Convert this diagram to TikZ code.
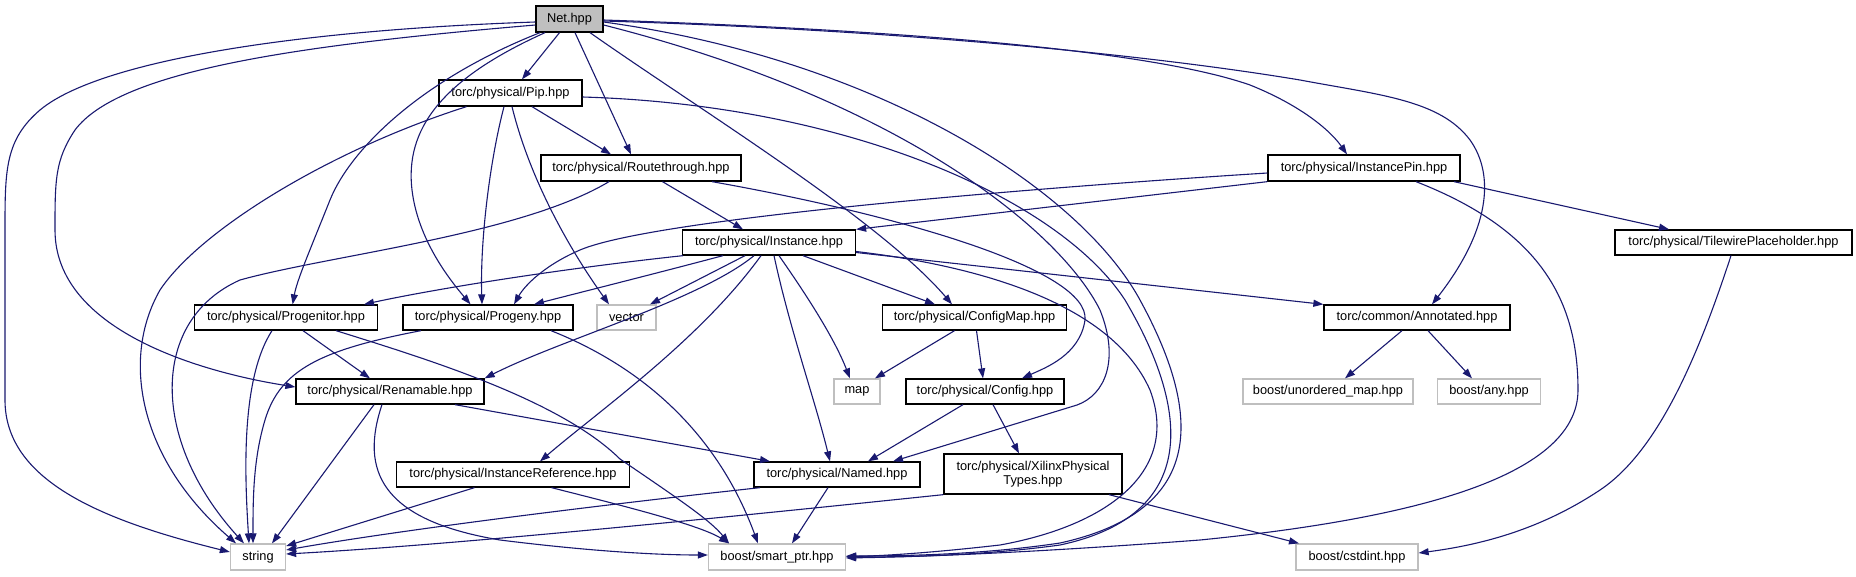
\documentclass[tikz,border=0pt]{standalone}
\usepackage{fontspec}
\setmainfont{Liberation Sans}
\usetikzlibrary{arrows.meta,calc}
\definecolor{edgec}{HTML}{191970}
\definecolor{greyb}{HTML}{BFBFBF}
\begin{document}
\begin{tikzpicture}[x=1pt,y=-1pt,font=\fontsize{12.8}{14}\selectfont,
  box/.style={draw=black,line width=1.3pt,fill=white,inner sep=0pt,minimum height=25pt},
  gbox/.style={box,draw=greyb},
  edge/.style={draw=edgec,line width=1.1pt,-{Triangle[length=10pt,width=7pt]}}]
\fill[white] (0,0) rectangle (1856,576);
\useasboundingbox (0,0) rectangle (1856,576);
% nodes
\node[box,fill=greyb,minimum width=67pt,minimum height=26pt] (net) at (569.5,19) {Net.hpp};
\node[box,minimum width=143pt,minimum height=26pt] (pip) at (510.5,93) {torc/physical/Pip.hpp};
\node[box,minimum width=200pt,minimum height=26pt] (rt) at (641,168) {torc/physical/Routethrough.hpp};
\node[box,minimum width=192pt,minimum height=26pt] (ipin) at (1364,168) {torc/physical/InstancePin.hpp};
\node[box,minimum width=173pt] (inst) at (769,242.5) {torc/physical/Instance.hpp};
\node[box,minimum width=237pt] (tw) at (1733.5,242.5) {torc/physical/TilewirePlaceholder.hpp};
\node[box,minimum width=183pt] (pgen) at (286,317.5) {torc/physical/Progenitor.hpp};
\node[box,minimum width=170pt] (pgny) at (488,317.5) {torc/physical/Progeny.hpp};
\node[gbox,minimum width=59pt] (vec) at (626.5,317.5) {vector};
\node[box,minimum width=184pt] (cmap) at (974.5,317.5) {torc/physical/ConfigMap.hpp};
\node[box,minimum width=186pt] (ann) at (1417,317.5) {torc/common/Annotated.hpp};
\node[box,minimum width=188pt] (ren) at (390,391.5) {torc/physical/Renamable.hpp};
\node[gbox,minimum width=46pt] (map) at (857,391.5) {map};
\node[box,minimum width=158pt] (cfg) at (985,391.5) {torc/physical/Config.hpp};
\node[gbox,minimum width=170pt] (umap) at (1328,391.5) {boost/unordered\_map.hpp};
\node[gbox,minimum width=103pt] (any) at (1489,391.5) {boost/any.hpp};
\node[box,minimum width=233pt] (iref) at (513,474.5) {torc/physical/InstanceReference.hpp};
\node[box,minimum width=166pt] (named) at (837,474.5) {torc/physical/Named.hpp};
\node[box,minimum width=178pt,minimum height=40pt,align=center] (xil) at (1033,474) {torc/physical/XilinxPhysical\\Types.hpp};
\node[gbox,minimum width=55pt,minimum height=26pt] (str) at (258,557) {string};
\node[gbox,minimum width=137pt,minimum height=26pt] (sp) at (777,557) {boost/smart\_ptr.hpp};
\node[gbox,minimum width=122pt,minimum height=26pt] (cst) at (1357,557) {boost/cstdint.hpp};
% Net
\draw[edge] ([yshift=-3pt]net.west) .. controls (300,30) and (100,60) .. (40,110) .. controls (5,140) and (5,170) .. (5,230) -- (5,400) .. controls (5,480) and (100,520) .. ([yshift=5pt]str.west);
\draw[edge] ([yshift=-6pt]net.west) .. controls (300,45) and (120,70) .. (75,130) .. controls (55,160) and (55,180) .. (55,230) .. controls (55,330) and (200,372) .. ([yshift=4.5pt]ren.west);
\draw[edge] ([xshift=-10pt]net.south) -- ([xshift=11.5pt]pip.north);
\draw[edge] ([xshift=5.5pt]net.south) -- ([xshift=-10pt]rt.north);
\draw[edge] ([xshift=-29.5pt]net.south) .. controls (420,80) and (350,150) .. (330,200) .. controls (310,250) and (297,280) .. ([xshift=6.6pt]pgen.north);
\draw[edge] ([xshift=-24.5pt]net.south) .. controls (440,80) and (405,130) .. (412,190) .. controls (418,240) and (450,280) .. ([xshift=-17.5pt]pgny.north);
\draw[edge] ([xshift=20.5pt]net.south) .. controls (700,110) and (880,220) .. ([xshift=-22.5pt]cmap.north);
\draw[edge] ([yshift=-6pt]net.east) .. controls (900,100) and (1060,230) .. (1100,310) .. controls (1120,360) and (1105,395) .. (1077,405) -- ([xshift=56pt]named.north);
\draw[edge] ([yshift=-3pt]net.east) .. controls (880,60) and (1080,190) .. (1140,300) .. controls (1200,410) and (1210,510) .. (1060,543) .. controls (980,555) and (900,556) .. ([yshift=1pt]sp.east);
\draw[edge] ([yshift=-1pt]net.east) .. controls (900,30) and (1150,50) .. (1250,85) .. controls (1300,105) and (1330,130) .. ([xshift=-17pt]ipin.north);
\draw[edge] ([yshift=-2pt]net.east) .. controls (900,30) and (1150,55) .. (1300,80) .. controls (1380,95) and (1440,100) .. (1470,140) .. controls (1495,175) and (1490,230) .. ([xshift=15pt]ann.north);
% Pip
\draw[edge] ([xshift=21.5pt]pip.south) -- ([xshift=-30pt]rt.north);
\draw[edge] ([xshift=-6.5pt]pip.south) .. controls (490,160) and (480,240) .. ([xshift=-6pt]pgny.north);
\draw[edge] ([xshift=1.5pt]pip.south) .. controls (530,180) and (570,250) .. ([xshift=-17.5pt]vec.north);
\draw[edge] ([xshift=-44pt]pip.south) .. controls (330,150) and (200,230) .. (160,290) .. controls (120,360) and (140,460) .. ([xshift=-22pt]str.north);
\draw[edge] ([yshift=-4pt]pip.east) .. controls (850,105) and (1060,200) .. (1125,300) .. controls (1190,410) and (1200,515) .. (1060,545) .. controls (980,556) and (900,557) .. (sp.east);
% Routethrough
\draw[edge] ([xshift=21.5pt]rt.south) -- ([xshift=-26pt]inst.north);
\draw[edge] ([xshift=-32pt]rt.south) .. controls (520,235) and (330,255) .. (240,280) .. controls (150,320) and (150,440) .. ([xshift=-14pt]str.north);
\draw[edge] ([xshift=71pt]rt.south) .. controls (900,215) and (1090,270) .. (1085,320) .. controls (1080,355) and (1045,368) .. ([xshift=37pt]cfg.north);
% InstancePin
\draw[edge] (ipin.south west) -- (inst.north east);
\draw[edge] ([yshift=-5pt]ipin.west) .. controls (1000,190) and (650,220) .. (580,250) .. controls (545,265) and (525,285) .. ([xshift=26pt]pgny.north);
\draw[edge] ([xshift=90pt]ipin.south) -- ([xshift=-64.5pt]tw.north);
\draw[edge] ([xshift=52pt]ipin.south) .. controls (1540,230) and (1578,300) .. (1578,390) .. controls (1578,480) and (1400,520) .. (1200,540) .. controls (1000,555) and (900,557) .. ([yshift=-1pt]sp.east);
% Instance
\draw[edge] ([xshift=-86pt]inst.south) .. controls (550,270) and (430,290) .. ([xshift=78pt]pgen.north);
\draw[edge] ([xshift=-46pt]inst.south) .. controls (650,275) and (570,295) .. ([xshift=46pt]pgny.north);
\draw[edge] ([xshift=-24pt]inst.south) -- ([xshift=23.5pt]vec.north);
\draw[edge] ([xshift=34pt]inst.south) -- ([xshift=-39.5pt]cmap.north);
\draw[edge] ([xshift=10pt]inst.south) .. controls (810,300) and (835,340) .. ([xshift=-7pt]map.north);
\draw[edge] ([xshift=5pt]inst.south) .. controls (790,330) and (815,400) .. ([xshift=-7pt]named.north);
\draw[edge] ([xshift=-8pt]inst.south) .. controls (700,340) and (600,410) .. ([xshift=27pt]iref.north);
\draw[edge] ([xshift=-15pt]inst.south) .. controls (700,300) and (560,340) .. (ren.north east);
\draw[edge] ([yshift=-9pt]inst.east) .. controls (970,265) and (1110,300) .. (1150,390) .. controls (1180,470) and (1110,525) .. (1000,545) .. controls (930,553) and (880,556) .. ([yshift=0.5pt]sp.east);
\draw[edge] ([yshift=-10pt]inst.east) -- (ann.north west);
% TilewirePlaceholder
\draw[edge] ([xshift=-2.5pt]tw.south) .. controls (1700,350) and (1660,450) .. (1600,490) .. controls (1540,530) and (1480,545) .. ([yshift=4pt]cst.east);
% Annotated
\draw[edge] ([xshift=-15pt]ann.south) -- ([xshift=17pt]umap.north);
\draw[edge] ([xshift=11pt]ann.south) -- ([xshift=-17pt]any.north);
% Progenitor
\draw[edge] ([xshift=17pt]pgen.south) -- ([xshift=-20pt]ren.north);
\draw[edge] ([xshift=-14pt]pgen.south) .. controls (240,380) and (245,480) .. ([xshift=-9pt]str.north);
\draw[edge] ([xshift=50pt]pgen.south) .. controls (430,360) and (560,400) .. (620,459) .. controls (680,500) and (710,520) .. ([xshift=-48pt]sp.north);
% Progeny
\draw[edge] ([xshift=-67pt]pgny.south) .. controls (320,350) and (280,370) .. (265,420) .. controls (253,460) and (253,500) .. ([xshift=-5pt]str.north);
\draw[edge] ([xshift=63pt]pgny.south) .. controls (650,370) and (720,440) .. ([xshift=-19pt]sp.north);
% Renamable
\draw[edge] ([xshift=65pt]ren.south) -- ([xshift=-67pt]named.north);
\draw[edge] ([xshift=-16pt]ren.south) -- ([xshift=14pt]str.north);
\draw[edge] ([xshift=-8pt]ren.south) .. controls (360,470) and (380,520) .. (500,540) .. controls (580,550) and (650,555) .. ([yshift=2pt]sp.west);
% InstanceReference
\draw[edge] ([xshift=-38.5pt]iref.south) -- ([yshift=11pt]str.east);
\draw[edge] ([xshift=38.5pt]iref.south) .. controls (620,505) and (700,525) .. ([xshift=-48pt]sp.north);
% Named
\draw[edge] ([xshift=-77pt]named.south) .. controls (600,505) and (400,530) .. ([yshift=7pt]str.east);
\draw[edge] ([xshift=-9pt]named.south) -- ([xshift=15pt]sp.north);
% XilinxPhysicalTypes
\draw[edge] (xil.south west) .. controls (700,520) and (450,545) .. ([yshift=3pt]str.east);
\draw[edge] ([xshift=76pt]xil.south) -- ([xshift=-58pt]cst.north);
% Config
\draw[edge] ([xshift=-22pt]cfg.south) -- ([xshift=31pt]named.north);
\draw[edge] ([xshift=8pt]cfg.south) -- ([xshift=-14pt]xil.north);
% ConfigMap
\draw[edge] ([xshift=-20pt]cmap.south) -- ([xshift=18pt]map.north);
\draw[edge] ([xshift=2pt]cmap.south) -- ([xshift=-2pt]cfg.north);
\end{tikzpicture}
\end{document}
